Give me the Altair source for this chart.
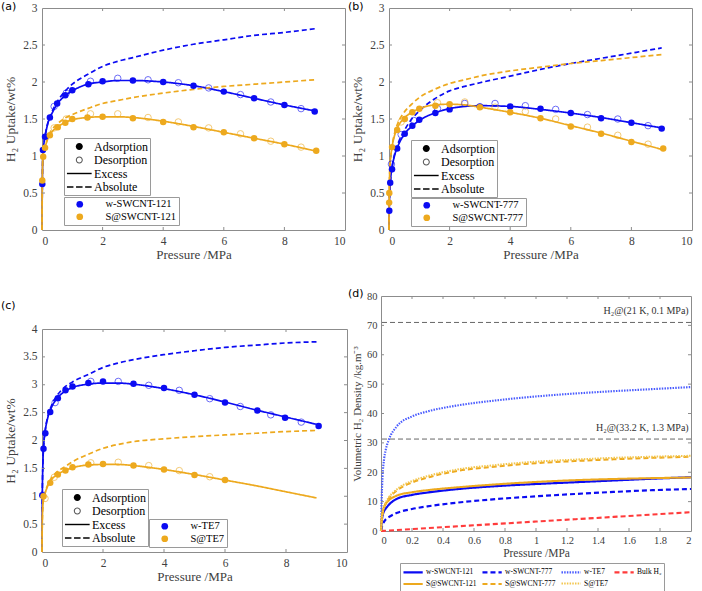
import altair as alt
import pandas as pd

BLUE = "#0b0bf2"
ORANGE = "#EDA91E"
SERIF = "Liberation Serif"
GREY_TXT = "#404040"
FRAME = "#8c8c8c"

# ---------------- shared pressure grid for model curves (MPa) ----------------
P_LINE = [0, 0.01, 0.03, 0.06, 0.1, 0.2, 0.3, 0.5, 0.75, 1, 1.5, 2, 2.5, 3, 4, 5, 6, 7, 8, 9]
X_TICKS = [0, 2, 4, 6, 8, 10]

# ---------------- panel (a) ----------------
A_NAMES = ["w-SWCNT-121", "S@SWCNT-121"]
A_W_ADS_P = [0.01, 0.03, 0.1, 0.26, 0.5, 0.77, 1.0, 1.53, 2, 3, 4, 5, 6, 7, 8, 9]
A_W_ADS_U = [0.62, 1.08, 1.26, 1.52, 1.71, 1.82, 1.89, 1.97, 2.01, 2.02, 2.0, 1.95, 1.87, 1.78, 1.69, 1.60]
A_W_DES_P = [0.4, 0.8, 1.6, 2.5, 3.5, 4.5, 5.5, 6.55, 7.55, 8.55]
A_W_DES_U = [1.67, 1.85, 2.01, 2.05, 2.03, 1.99, 1.92, 1.83, 1.73, 1.64]
A_S_ADS_P = [0.01, 0.04, 0.1, 0.26, 0.52, 0.77, 1.0, 1.5, 2, 3, 4, 5, 6, 7, 8, 9.05]
A_S_ADS_U = [0.67, 0.99, 1.11, 1.28, 1.39, 1.45, 1.50, 1.52, 1.53, 1.51, 1.46, 1.39, 1.32, 1.24, 1.16, 1.07]
A_S_DES_P = [0.4, 0.8, 1.6, 2.5, 3.5, 4.5, 5.5, 6.55, 7.55, 8.55]
A_S_DES_U = [1.38, 1.50, 1.57, 1.57, 1.52, 1.46, 1.38, 1.30, 1.20, 1.12]
A_W_EXC = [0, 0.6, 1.02, 1.16, 1.26, 1.45, 1.55, 1.70, 1.81, 1.88, 1.97, 2.0, 2.02, 2.02, 2.0, 1.95, 1.87, 1.78, 1.69, 1.61]
A_W_ABS = [0, 0.6, 1.02, 1.16, 1.27, 1.46, 1.57, 1.73, 1.87, 1.97, 2.10, 2.21, 2.28, 2.33, 2.43, 2.51, 2.57, 2.63, 2.67, 2.72]
A_S_EXC = [0, 0.66, 0.99, 1.07, 1.12, 1.24, 1.31, 1.39, 1.45, 1.49, 1.52, 1.53, 1.53, 1.52, 1.47, 1.40, 1.32, 1.24, 1.16, 1.07]
A_S_ABS = [0, 0.66, 0.99, 1.08, 1.13, 1.26, 1.34, 1.43, 1.51, 1.56, 1.64, 1.71, 1.75, 1.79, 1.85, 1.90, 1.94, 1.97, 2.0, 2.03]

# ---------------- panel (b) ----------------
B_NAMES = ["w-SWCNT-777", "S@SWCNT-777"]
B_W_ADS_P = [0.01, 0.04, 0.1, 0.27, 0.52, 0.77, 1.0, 1.53, 2, 3, 4, 5, 6, 7, 8, 9]
B_W_ADS_U = [0.26, 0.64, 0.82, 1.10, 1.30, 1.41, 1.49, 1.58, 1.63, 1.67, 1.67, 1.64, 1.58, 1.51, 1.45, 1.37]
B_W_DES_P = [0.08, 0.4, 0.82, 1.6, 2.5, 3.5, 4.5, 5.5, 6.55, 7.55, 8.55]
B_W_DES_U = [0.89, 1.29, 1.48, 1.64, 1.71, 1.71, 1.68, 1.63, 1.56, 1.50, 1.41]
B_S_ADS_P = [0.005, 0.01, 0.1, 0.27, 0.52, 0.77, 1.0, 1.53, 2, 3, 4, 5, 6, 7, 8, 9.05]
B_S_ADS_U = [0.37, 0.50, 1.12, 1.35, 1.50, 1.59, 1.64, 1.68, 1.70, 1.66, 1.59, 1.51, 1.40, 1.30, 1.19, 1.10]
B_S_DES_P = [0.4, 1.6, 2.5, 3.5, 4.5, 5.5, 6.55, 7.55, 8.55]
B_S_DES_U = [1.46, 1.72, 1.73, 1.66, 1.60, 1.50, 1.39, 1.28, 1.16]
B_W_EXC = [0, 0.3, 0.55, 0.72, 0.84, 1.03, 1.14, 1.29, 1.40, 1.48, 1.58, 1.64, 1.67, 1.68, 1.67, 1.63, 1.58, 1.52, 1.45, 1.38]
B_W_ABS = [0, 0.3, 0.55, 0.72, 0.85, 1.05, 1.17, 1.34, 1.50, 1.61, 1.77, 1.88, 1.94, 1.99, 2.08, 2.17, 2.25, 2.32, 2.39, 2.46]
B_S_EXC = [0, 0.5, 0.85, 1.0, 1.12, 1.30, 1.40, 1.51, 1.59, 1.64, 1.69, 1.70, 1.69, 1.66, 1.59, 1.51, 1.41, 1.31, 1.20, 1.09]
B_S_ABS = [0, 0.5, 0.85, 1.0, 1.13, 1.33, 1.45, 1.59, 1.70, 1.79, 1.90, 1.98, 2.03, 2.08, 2.15, 2.20, 2.25, 2.29, 2.33, 2.37]

# ---------------- panel (c) ----------------
C_NAMES = ["w-TE7", "S@TE7"]
C_W_ADS_P = [0.01, 0.05, 0.11, 0.27, 0.52, 0.77, 1.0, 1.52, 2.0, 3.0, 4.0, 5.0, 6.0, 7.06, 7.97, 9.07]
C_W_ADS_U = [1.02, 1.85, 2.13, 2.51, 2.76, 2.90, 2.97, 3.03, 3.06, 3.02, 2.94, 2.82, 2.68, 2.54, 2.41, 2.26]
C_W_DES_P = [0.43, 1.6, 2.5, 3.5, 4.5, 5.5, 6.5, 7.5, 8.5]
C_W_DES_U = [2.68, 3.06, 3.06, 2.99, 2.90, 2.75, 2.61, 2.46, 2.33]
C_S_ADS_P = [0.05, 0.27, 0.52, 0.77, 1.0, 1.52, 2, 3, 4, 5, 6]
C_S_ADS_U = [1.0, 1.24, 1.39, 1.46, 1.52, 1.57, 1.58, 1.55, 1.48, 1.38, 1.29]
C_S_DES_P = [0.1, 0.4, 1.6, 2.5, 3.5, 4.5, 5.5]
C_S_DES_U = [0.96, 1.34, 1.60, 1.61, 1.55, 1.46, 1.35]
C_W_EXC = [0, 1.0, 1.6, 1.95, 2.15, 2.43, 2.58, 2.76, 2.88, 2.95, 3.01, 3.03, 3.03, 3.01, 2.93, 2.82, 2.69, 2.55, 2.42, 2.29]
C_W_ABS = [0, 1.0, 1.6, 1.95, 2.16, 2.45, 2.61, 2.81, 2.96, 3.05, 3.18, 3.31, 3.39, 3.45, 3.54, 3.61, 3.67, 3.71, 3.75, 3.77]
C_S_EXC = [0, 0.55, 0.85, 0.97, 1.05, 1.20, 1.29, 1.39, 1.46, 1.51, 1.56, 1.57, 1.57, 1.55, 1.48, 1.39, 1.29, 1.19, 1.08, 0.97]
C_S_ABS = [0, 0.55, 0.85, 0.97, 1.06, 1.22, 1.32, 1.44, 1.53, 1.62, 1.75, 1.86, 1.93, 1.98, 2.03, 2.07, 2.10, 2.13, 2.16, 2.18]

# ---------------- panel (d) ----------------
D_P = [0, 0.005, 0.01, 0.02, 0.03, 0.05, 0.1, 0.2, 0.3, 0.5, 0.75, 1.0, 1.25, 1.5, 1.75, 2.0]
D_SERIES = ["w-SWCNT-121", "w-SWCNT-777", "w-TE7", "Bulk H\u2082",
            "S@SWCNT-121", "S@SWCNT-777", "S@TE7"]
D_VALUES = {
    "w-SWCNT-121": [0, 3.5, 5.2, 6.8, 7.6, 8.9, 10.9, 12.3, 13.1, 14.3, 15.3, 16.0, 16.6, 17.2, 17.8, 18.3],
    "w-SWCNT-777": [0, 1.2, 2.0, 3.2, 3.9, 4.7, 6.1, 7.5, 8.4, 9.7, 10.9, 11.8, 12.6, 13.3, 13.9, 14.3],
    "w-TE7": [0, 12, 18.5, 24.5, 27.5, 31, 35.5, 39, 40.7, 42.8, 44.5, 45.8, 46.8, 47.6, 48.3, 49.0],
    "Bulk H\u2082": [0, 0.02, 0.03, 0.07, 0.1, 0.17, 0.33, 0.65, 0.98, 1.62, 2.42, 3.22, 4.0, 4.8, 5.6, 6.4],
    "S@SWCNT-121": [0, 4.5, 6.3, 8.2, 9.2, 10.4, 12.0, 13.2, 13.9, 14.9, 15.9, 16.7, 17.3, 17.7, 18.0, 18.2],
    "S@SWCNT-777": [0, 4.0, 5.8, 8.0, 9.3, 11.0, 13.7, 16.5, 18.2, 20.5, 22.0, 23.1, 23.8, 24.4, 24.9, 25.3],
    "S@TE7": [0, 4.2, 6.0, 8.3, 9.6, 11.4, 14.1, 17.0, 18.7, 21.0, 22.5, 23.6, 24.3, 24.9, 25.3, 25.6],
}
D_X_TICKS = [0, 0.2, 0.4, 0.6, 0.8, 1, 1.2, 1.4, 1.6, 1.8, 2]
D_Y_TICKS = [0, 10, 20, 30, 40, 50, 60, 70, 80]
D_COLORS = [BLUE, BLUE, "#4a5cff", "#ff3b3b", ORANGE, ORANGE, "#f3c64e"]
D_DASHES = [[1, 0], [5, 3], [1.5, 1.2], [5, 3], [1, 0], [5, 3], [1.5, 1.2]]
D_WIDTHS = [2.2, 2.0, 1.6, 1.6, 2.0, 1.8, 1.6]
REF_V = [71.0, 31.3]
REF_LABEL_V = [73.8, 34.2]
REF_LABELS = ["H\u2082@(21 K, 0.1 MPa)", "H\u2082@(33.2 K, 1.3 MPa)"]

# legend glyphs (unit paths; filled, no stroke)
KINDS = ["Adsorption", "Desorption", "Excess", "Absolute"]
DOT = "M0,-0.54A0.54,0.54,0,1,1,0,0.54A0.54,0.54,0,1,1,0,-0.54Z"
RING = DOT + "M0,-0.38A0.38,0.38,0,1,0,0,0.38A0.38,0.38,0,1,0,0,-0.38Z"
BAR = "M-1.9,-0.11L1.9,-0.11L1.9,0.11L-1.9,0.11Z"
DASHBAR = ("M-1.9,-0.11L-0.9,-0.11L-0.9,0.11L-1.9,0.11Z"
           "M-0.5,-0.11L0.5,-0.11L0.5,0.11L-0.5,0.11Z"
           "M0.9,-0.11L1.9,-0.11L1.9,0.11L0.9,0.11Z")
KIND_SHAPES = [DOT, RING, BAR, DASHBAR]
KIND_FILLS = ["black", "#555555", "black", "black"]
LINE_KINDS = ["Excess", "Absolute"]
LINE_DASH = [[1, 0], [5, 3]]


def long_df(p, u, series, kind):
    return pd.DataFrame({"P": p, "U": u, "series": series, "kind": kind})


def inner_ticks(xticks, yticks, xname, yname, xlen, ylen):
    """MATLAB-style inward tick segments on all four sides, built from the tick lists."""
    x0, x1 = xticks[0], xticks[-1]
    y0, y1 = yticks[0], yticks[-1]
    rows = []
    for t in xticks[1:-1]:
        rows.append({xname: t, yname: y0, "x2": t, "y2": y0 + ylen})
        rows.append({xname: t, yname: y1, "x2": t, "y2": y1 - ylen})
    for t in yticks[1:-1]:
        rows.append({xname: x0, yname: t, "x2": x0 + xlen, "y2": t})
        rows.append({xname: x1, yname: t, "x2": x1 - xlen, "y2": t})
    return pd.DataFrame(rows)


def uptake_panel(names, w_ads, w_des, s_ads, s_des, w_exc, w_abs, s_exc, s_abs,
                 ymax, width, height, leg1, leg2, title):
    pts = pd.concat([
        long_df(w_ads[0], w_ads[1], names[0], "Adsorption"),
        long_df(w_des[0], w_des[1], names[0], "Desorption"),
        long_df(s_ads[0], s_ads[1], names[1], "Adsorption"),
        long_df(s_des[0], s_des[1], names[1], "Desorption"),
    ], ignore_index=True)
    lines = pd.concat([
        long_df(P_LINE, w_exc, names[0], "Excess"),
        long_df(P_LINE, w_abs, names[0], "Absolute"),
        long_df(P_LINE, s_exc, names[1], "Excess"),
        long_df(P_LINE, s_abs, names[1], "Absolute"),
    ], ignore_index=True)

    yvals = [i * 0.5 for i in range(int(ymax * 2) + 1)]
    x = alt.X("P:Q", scale=alt.Scale(domain=[0, 10], nice=False),
              axis=alt.Axis(values=X_TICKS, title="Pressure /MPa",
                            labelFontSize=11.5, titleFontSize=13, labelPadding=5, titlePadding=2))
    y = alt.Y("U:Q", scale=alt.Scale(domain=[0, ymax], nice=False),
              axis=alt.Axis(values=yvals, format="~g", title="H\u2082 Uptake/wt%",
                            labelFontSize=11.5, titleFontSize=13.5, labelPadding=5, titlePadding=5))
    cscale = alt.Scale(domain=names, range=[BLUE, ORANGE])
    sscale = alt.Scale(domain=[names[1], names[0]], range=[ORANGE, BLUE])
    kind_legend = alt.Legend(orient="none", legendX=leg1[0], legendY=leg1[1], title=None,
                             strokeColor="#9a9a9a", fillColor="white", padding=2,
                             labelFont=SERIF, labelFontSize=12, labelColor="black",
                             symbolSize=169, symbolStrokeWidth=0, symbolFillColor="black",
                             symbolOpacity=1, symbolOffset=6.8, labelOffset=8.2,
                             rowPadding=0.5, cornerRadius=0)
    series_legend = alt.Legend(orient="none", legendX=leg2[0], legendY=leg2[1], title=None,
                               strokeColor="#9a9a9a", fillColor="white", padding=2,
                               labelFont=SERIF, labelFontSize=10.5, labelColor="black",
                               symbolType="circle", symbolSize=45, symbolOffset=8.5,
                               symbolOpacity=1, labelOffset=20.5, rowPadding=1.5, cornerRadius=0)

    ticks = inner_ticks(X_TICKS, yvals, "P", "U", 10 * 3.0 / width, ymax * 3.0 / height)
    tick_layer = alt.Chart(ticks).mark_rule(color=FRAME, strokeWidth=1).encode(
        x=x, y=y, x2="x2:Q", y2="y2:Q")
    line_layer = alt.Chart(lines).mark_line(strokeWidth=1.7, interpolate="monotone").encode(
        x=x, y=y,
        stroke=alt.Stroke("series:N", scale=sscale, legend=None),
        strokeDash=alt.StrokeDash("kind:N", scale=alt.Scale(domain=LINE_KINDS, range=LINE_DASH),
                                  legend=None),
    )
    open_layer = alt.Chart(pts).transform_filter("datum.kind == 'Desorption'").mark_point(
        filled=False, size=42, strokeWidth=1, opacity=0.6).encode(
        x=x, y=y, stroke=alt.Stroke("series:N", scale=sscale, legend=None))
    fill_layer = alt.Chart(pts).transform_filter("datum.kind == 'Adsorption'").mark_point(
        filled=True, size=42, opacity=1).encode(
        x=x, y=y, color=alt.Color("series:N", scale=cscale, legend=series_legend))
    legend_layer = alt.Chart(pd.DataFrame({"kind": KINDS})).transform_filter("false").mark_point(
        filled=True, opacity=1).encode(
        shape=alt.Shape("kind:N", scale=alt.Scale(domain=KINDS, range=KIND_SHAPES), legend=kind_legend),
        fill=alt.Fill("kind:N", scale=alt.Scale(domain=KINDS, range=KIND_FILLS), legend=kind_legend),
    )
    return alt.layer(line_layer, tick_layer, open_layer, fill_layer, legend_layer).properties(
        width=width, height=height, title=title)


pa = uptake_panel(A_NAMES, (A_W_ADS_P, A_W_ADS_U), (A_W_DES_P, A_W_DES_U),
                  (A_S_ADS_P, A_S_ADS_U), (A_S_DES_P, A_S_DES_U),
                  A_W_EXC, A_W_ABS, A_S_EXC, A_S_ABS, 3, 303, 222, (22, 130), (22, 189),
                  alt.TitleParams("(a)", anchor="start", frame="group", dx=-41, offset=-10))
pb = uptake_panel(B_NAMES, (B_W_ADS_P, B_W_ADS_U), (B_W_DES_P, B_W_DES_U),
                  (B_S_ADS_P, B_S_ADS_U), (B_S_DES_P, B_S_DES_U),
                  B_W_EXC, B_W_ABS, B_S_EXC, B_S_ABS, 3, 303, 222, (22, 132), (22, 190),
                  alt.TitleParams("(b)", anchor="start", frame="group", dx=-41, offset=-10))
pc = uptake_panel(C_NAMES, (C_W_ADS_P, C_W_ADS_U), (C_W_DES_P, C_W_DES_U),
                  (C_S_ADS_P, C_S_ADS_U), (C_S_DES_P, C_S_DES_U),
                  C_W_EXC, C_W_ABS, C_S_EXC, C_S_ABS, 4, 305, 223, (20, 160), (107, 190),
                  alt.TitleParams(["", "(c)"], anchor="start", frame="group", dx=-41,
                                  offset=12, lineHeight=12))

# ---------------- build panel (d) ----------------
d_rows = []
for s in D_SERIES:
    for p, v in zip(D_P, D_VALUES[s]):
        d_rows.append({"P": p, "V": v, "series": s})
d_df = pd.DataFrame(d_rows)

dx = alt.X("P:Q", scale=alt.Scale(domain=[0, 2], nice=False),
           axis=alt.Axis(values=D_X_TICKS, format="~g",
                         title="Pressure /MPa", labelFontSize=10.5, titleFontSize=11.5,
                         labelPadding=4, titlePadding=2))
dy = alt.Y("V:Q", scale=alt.Scale(domain=[0, 80], nice=False),
           axis=alt.Axis(values=D_Y_TICKS, title="Volumetric H\u2082 Density /kg.m\u207b\u00b3",
                         labelFontSize=10.5, titleFontSize=11, labelPadding=4, titlePadding=4))
d_legend = alt.Legend(orient="none", legendX=19, legendY=267, title=None, columns=4,
                      direction="horizontal", symbolType="M-1.75,0L1.75,0", symbolSize=121,
                      symbolStrokeWidth=2, symbolOffset=4.1, labelOffset=6, gridAlign="each",
                      labelFont=SERIF, labelFontSize=7.5, labelColor="black",
                      strokeColor="#9a9a9a", fillColor="white", padding=2, columnPadding=1,
                      rowPadding=0, cornerRadius=0)
d_ticks = alt.Chart(inner_ticks(D_X_TICKS, D_Y_TICKS, "P", "V", 2 * 3.0 / 310, 80 * 3.0 / 235)).mark_rule(
    color=FRAME, strokeWidth=1).encode(x=dx, y=dy, x2="x2:Q", y2="y2:Q")
d_lines = alt.Chart(d_df).mark_line(interpolate="monotone").encode(
    x=dx, y=dy,
    stroke=alt.Stroke("series:N", scale=alt.Scale(domain=D_SERIES, range=D_COLORS), legend=d_legend),
    strokeDash=alt.StrokeDash("series:N", scale=alt.Scale(domain=D_SERIES, range=D_DASHES), legend=d_legend),
    strokeWidth=alt.StrokeWidth("series:N", scale=alt.Scale(domain=D_SERIES, range=D_WIDTHS), legend=None),
)
d_refs = alt.Chart(pd.DataFrame({"V": REF_V})).mark_rule(
    color="#666666", strokeDash=[5, 3], strokeWidth=1).encode(y=dy)
d_text = alt.Chart(pd.DataFrame({"P": [1.985, 1.985], "V": REF_LABEL_V, "label": REF_LABELS})).mark_text(
    align="right", baseline="alphabetic", font=SERIF, fontSize=10, color="#333333").encode(
    x=dx, y=dy, text="label:N")
pd_ = alt.layer(d_refs, d_lines, d_ticks, d_text).properties(
    width=310, height=235,
    title=alt.TitleParams("(d)", anchor="start", frame="group", dx=-33, offset=-8))

IND = dict(color="independent", stroke="independent", strokeDash="independent",
           shape="independent", fill="independent", strokeWidth="independent")

chart = alt.concat(pa, pb, pc, pd_, columns=2, align="none",
                   spacing={"row": 25, "column": -1}).resolve_scale(**IND).resolve_legend(**IND).properties(
    padding={"left": 0, "top": 0, "right": 0, "bottom": 0},
    background="white",
).configure_view(
    stroke=FRAME, strokeWidth=1
).configure_axis(
    domain=False, grid=False, ticks=False,
    labelFont=SERIF, titleFont=SERIF, labelColor=GREY_TXT, titleColor=GREY_TXT,
    titleFontWeight="normal",
).configure_title(
    font="DejaVu Sans", fontSize=11, fontWeight="normal", color="black", anchor="start"
)

chart.save("out.html", embed_options={"renderer": "svg", "actions": False})
